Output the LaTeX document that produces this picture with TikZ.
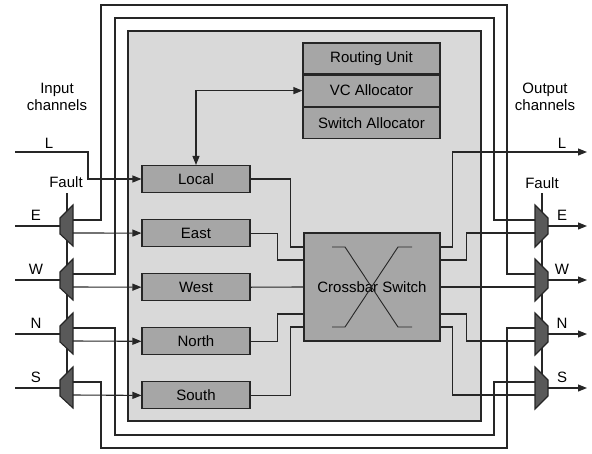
\documentclass[tikz,border=0pt]{standalone}
\usepackage{fontspec}
\setmainfont{Liberation Sans}
\usetikzlibrary{arrows.meta,positioning,calc}
\definecolor{coregray}{HTML}{D9D9D9}
\definecolor{boxgray}{HTML}{A6A6A6}
\definecolor{muxgray}{HTML}{595959}

\begin{document}
\begin{tikzpicture}[x=1pt,y=-1pt,
  font=\fontsize{15}{17}\selectfont,
  wire/.style={line width=1.1pt,draw=black!85},
  arr/.style={wire,-{Triangle[length=9pt,width=7pt]}},
  buf/.style={draw=black!85,line width=1.1pt,fill=boxgray,minimum width=108pt,minimum height=27pt,inner sep=0pt},
  unit/.style={buf,minimum width=137pt,minimum height=31pt},
  mux/.style={wire,fill=muxgray},
  lbl/.style={inner sep=0pt,align=center}
]
  \useasboundingbox (0,0) rectangle (592,453);
  \filldraw[wire,fill=coregray] (128,31) rectangle (481,421);

  \coordinate (ringTL) at (101,5);    \coordinate (ringTR) at (507,5);
  \coordinate (ringBL) at (101,448);  \coordinate (ringBR) at (507,448);
  \coordinate (ring2TL) at (115,18);  \coordinate (ring2TR) at (494,18);
  \coordinate (ring2BL) at (115,435); \coordinate (ring2BR) at (494,435);

  \node[buf] (local) at (196,179) {Local};
  \node[buf,below=26pt of local] (east) {East};
  \node[buf,below=26pt of east] (west) {West};
  \node[buf,below=26pt of west] (north) {North};
  \node[buf,below=26pt of north] (south) {South};

  \node[unit] (ru) at (371.5,58.5) {Routing Unit};
  \node[unit,below=0pt of ru] (vc) {VC Allocator};
  \node[unit,below=0pt of vc] (sa) {Switch Allocator};

  \node[buf,minimum width=136pt,minimum height=108pt] (xbar) at (372,287) {Crossbar Switch};
  \draw[wire,line width=0.9pt] ($(xbar)+(-40,-40)$) -- ++(13,0) -- ++(53,80) -- ++(14,0);
  \draw[wire,line width=0.9pt] ($(xbar)+(-40,40)$) -- ++(13,0) -- ++(53,-80) -- ++(14,0);
  \foreach \dy [count=\i] in {-40,-27,0,27,40}{
    \coordinate (xin\i) at ($(xbar.west)+(0,\dy)$);
    \coordinate (xout\i) at ($(xbar.east)+(0,\dy)$);
  }

  \coordinate (faultL) at (67,193);
  \coordinate (faultR) at (542,193);
  \draw[wire] (faultL) -- ++(0,185);
  \draw[wire] (faultR) -- ++(0,185);
  \node[lbl] (faultlblL) at (66,182) {Fault};
  \node[lbl] (faultlblR) at (542,183) {Fault};
  \node[lbl] (inlbl) at (57,97) {Input\\channels};
  \node[lbl] (outlbl) at (545,97) {Output\\channels};

  \foreach \d/\y in {E/226,W/280,N/334,S/388}{
    \filldraw[mux] (60,\y-8) -- (73,\y-21) -- (73,\y+20) -- (60,\y+8) -- cycle;
    \filldraw[mux] (535,\y-21) -- (548,\y-8) -- (548,\y+8) -- (535,\y+21) -- cycle;
    \coordinate (in\d) at (15,\y);
    \coordinate (d\d) at (60,\y);
    \coordinate (top\d) at (73,\y-6);
    \coordinate (bot\d) at (73,\y+7);
    \coordinate (mtop\d) at (535,\y-6);
    \coordinate (mbot\d) at (535,\y+7);
    \coordinate (mux\d) at (548,\y);
    \coordinate (out\d) at (587,\y);
    \node[lbl] (lab\d) at (36,\y-10.5) {\d};
    \node[lbl] (rlab\d) at (562,\y-10.5) {\d};
  }

  \coordinate (inL) at (15,152);
  \coordinate (bendL) at (88,152);
  \coordinate (outL) at (587,152);
  \node[lbl] (labL) at (49,143) {L};
  \node[lbl] (rlabL) at (562,143) {L};

  \draw[arr] (inL) -- (bendL) |- (local.west);
  \foreach \d in {E,W,N,S} \draw[wire] (in\d) -- (d\d);
  \foreach \d/\b in {E/east,W/west,N/north,S/south} \draw[arr] (bot\d) -- (\b.west);

  \draw[wire] (topE) -| (ringTL) -- (ringTR) |- (mtopW);
  \draw[wire] (topW) -| (ring2TL) -- (ring2TR) |- (mtopE);
  \draw[wire] (topN) -| (ring2BL) -- (ring2BR) |- (mtopS);
  \draw[wire] (topS) -| (ringBL) -- (ringBR) |- (mtopN);

  \draw[wire] (local.east) -- ++(40,0) |- (xin1);
  \draw[wire] (east.east) -- ++(27,0) |- (xin2);
  \draw[wire] (west.east) -- (xin3);
  \draw[wire] (north.east) -- ++(27,0) |- (xin4);
  \draw[wire] (south.east) -- ++(40,0) |- (xin5);

  \draw[arr] (xout1) -- ++(12,0) |- (outL);
  \draw[wire] (xout2) -- ++(26,0) |- (mbotE);
  \draw[wire] (xout3) -- (mbotW);
  \draw[wire] (xout4) -- ++(26,0) |- (mbotN);
  \draw[wire] (xout5) -- ++(12,0) |- (mbotS);
  \foreach \d in {E,W,N,S} \draw[arr] (mux\d) -- (out\d);

  \draw[wire,{Triangle[length=9pt,width=7pt]}-{Triangle[length=9pt,width=7pt]}] (local.north) |- (vc.west);
\end{tikzpicture}
\end{document}
